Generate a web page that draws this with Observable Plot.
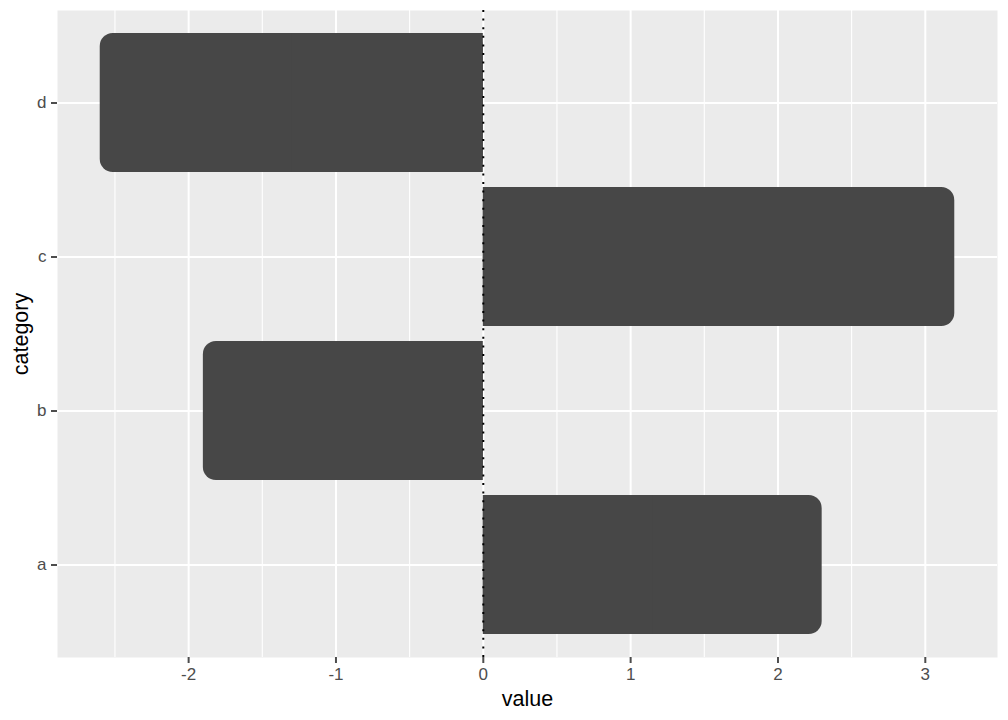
<!DOCTYPE html>
<html><head><meta charset="utf-8">
<script src="https://cdn.jsdelivr.net/npm/d3@7"></script>
<script src="https://cdn.jsdelivr.net/npm/@observablehq/plot@0.6"></script>
<style>body{margin:0;background:#fff;} svg{display:block;}</style>
</head><body><div id="chart"></div>
<script>
const categories = ["a", "b", "c", "d"];
const values = [2.3, -1.9, 3.2, -2.6];
const majorTicks = [-2, -1, 0, 1, 2, 3];
const minorTicks = [-2.5, -1.5, -0.5, 0.5, 1.5, 2.5, 3.5];
const xLabel = "value";
const yLabel = "category";

const data = categories.map((c, i) => ({category: c, value: values[i]}));
const font = "'Liberation Sans', Arial, Helvetica, sans-serif";

const chart = Plot.plot({
  width: 1008, height: 720,
  marginLeft: 57, marginRight: 11, marginTop: 10, marginBottom: 63,
  style: {fontFamily: font, background: "#fff"},
  x: {domain: [-2.89, 3.49], label: null},
  y: {domain: categories.slice().reverse(), paddingInner: 0.1, paddingOuter: 0.15, label: null},
  marks: [
    Plot.frame({fill: "#EBEBEB", stroke: null}),
    Plot.ruleX(minorTicks, {stroke: "#fff", strokeWidth: 1.1}),
    Plot.ruleX(majorTicks, {stroke: "#fff", strokeWidth: 2}),
    Plot.ruleY(categories, {y: d => d, stroke: "#fff", strokeWidth: 2}),
    Plot.barX(data, {y: "category", x1: 0, x2: "value", fill: "#474747", rx: 13}),
    Plot.barX(data, {y: "category", x1: 0, x2: d => d.value / 2, fill: "#474747"}),
    Plot.ruleX([0], {stroke: "#000", strokeWidth: 2, strokeDasharray: "2,6.6"}),
    Plot.axisX({ticks: majorTicks, tickSize: 6, tickPadding: 4, strokeWidth: 2, fontSize: 17, color: "#4D4D4D", tickFormat: d => String(d).replace("−", "-"), label: null}),
    Plot.axisY({tickSize: 6, tickPadding: 5, strokeWidth: 2, fontSize: 17, color: "#4D4D4D", label: null}),
    Plot.text([xLabel], {text: d => d, frameAnchor: "bottom", dy: 42, fontSize: 21.5, fill: "#000", textAnchor: "middle", lineAnchor: "middle"}),
    Plot.text([yLabel], {text: d => d, frameAnchor: "left", dx: -36, rotate: -90, fontSize: 21.5, fill: "#000", textAnchor: "middle", lineAnchor: "middle"})
  ]
});
document.getElementById("chart").appendChild(chart);
</script>
</body></html>
